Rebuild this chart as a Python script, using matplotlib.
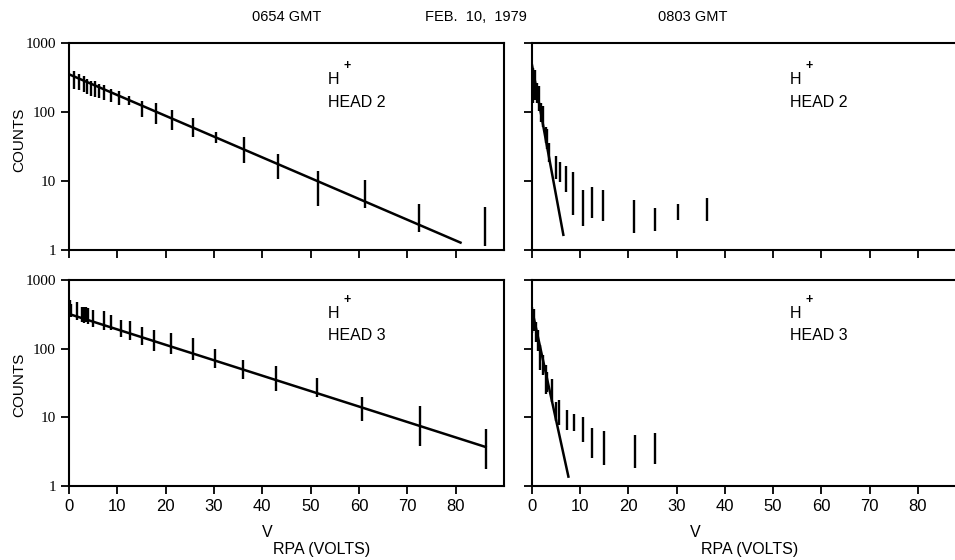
import matplotlib
matplotlib.use("Agg")
import matplotlib.pyplot as plt

SANS = ["Liberation Sans", "DejaVu Sans"]
SERIF = ["Liberation Serif", "DejaVu Serif"]

# 0654 GMT, head 2 (top left)
tl_v = [1.0, 2.1, 3.0, 3.8, 4.6, 5.4, 6.2, 7.2, 8.6, 10.4, 12.5, 15.0, 17.9,
        21.4, 25.6, 30.4, 36.2, 43.2, 51.5, 61.3, 72.5, 86.1]
tl_lo = [215, 205, 195, 180, 170, 165, 160, 150, 140, 125, 125, 85, 68,
         55, 43, 35, 18, 10.6, 4.4, 4.0, 1.8, 1.15]
tl_hi = [390, 360, 330, 300, 285, 280, 255, 245, 215, 200, 170, 145, 134,
         107, 81, 52, 44, 25, 14, 10.3, 4.6, 4.2]
tl_fit_v = [0, 81]
tl_fit_c = [352, 1.28]

# 0654 GMT, head 3 (bottom left)
bl_v = [0.2, 0.5, 1.6, 2.75, 3.2, 3.6, 4.0, 4.9, 7.3, 8.7, 10.7, 12.7, 15.1,
        17.5, 21.2, 25.7, 30.3, 36.1, 42.9, 51.3, 60.7, 72.6, 86.2]
bl_lo = [300, 290, 262, 246, 240, 246, 225, 209, 187, 187, 148, 132, 113,
         93, 85, 68, 53, 36, 24.5, 19.6, 8.7, 3.8, 1.74]
bl_hi = [520, 450, 483, 408, 400, 408, 390, 365, 357, 308, 262, 256, 209,
         187, 167, 141, 100, 69, 55, 37, 19.6, 14.5, 6.8]
bl_fit_v = [0, 86.2]
bl_fit_c = [320, 3.7]

# 0803 GMT, head 2 (top right)
tr_v = [0.14, 0.56, 1.05, 1.4, 1.9, 2.2, 2.8, 3.2, 3.6, 5.0, 5.9, 7.0, 8.5,
        10.6, 12.4, 14.8, 21.1, 25.5, 30.2, 36.2]
tr_lo = [135, 150, 135, 103, 71, 60, 36, 29, 18.6, 10.7, 9.8, 6.9, 3.2,
         2.2, 2.9, 2.6, 1.74, 1.9, 2.7, 2.6]
tr_hi = [434, 400, 263, 236, 135, 122, 60, 56, 35, 23, 18.6, 16.6, 13.7,
         7.4, 8.2, 7.4, 5.3, 4.1, 4.7, 5.7]
tr_fit_v = [0, 6.5]
tr_fit_c = [480, 1.66]

# 0803 GMT, head 3 (bottom right)
br_v = [0.1, 0.4, 0.77, 1.26, 1.75, 2.3, 2.8, 3.2, 4.05, 4.9, 5.7, 7.3, 8.8,
        10.5, 12.4, 15.0, 21.3, 25.6]
br_lo = [167, 180, 126, 91, 49, 42, 22, 23.5, 17, 8.7, 7.8, 6.6, 6.3,
         4.4, 2.6, 2.05, 1.8, 2.1]
br_hi = [410, 380, 246, 187, 113, 81, 58, 46, 36, 17, 18, 12.8, 11,
         10.2, 7.1, 6.3, 5.5, 6.0]
br_fit_v = [0, 7.55]
br_fit_c = [370, 1.37]

xticks = [0, 10, 20, 30, 40, 50, 60, 70, 80]
yticks = [1, 10, 100, 1000]
ytick_labels = ["1", "10", "100", "1000"]


def draw_panel(ax, v, lo, hi, fit_v, fit_c, head, text_y, left, bottom):
    ax.set_yscale("log")
    ax.set_xlim(0, 90)
    ax.set_ylim(1, 1000)
    ax.vlines(v, lo, hi, color="black", lw=1.7)
    ax.plot(fit_v, fit_c, color="black", lw=1.8)

    for s in ax.spines.values():
        s.set_linewidth(1.5)
    if not left:
        ax.spines["right"].set_visible(False)

    ax.set_xticks(xticks)
    ax.set_yticks(yticks)
    ax.minorticks_off()
    ax.tick_params(direction="out", length=5.5, width=1.3, pad=4)
    if bottom:
        ax.set_xticklabels([str(t) for t in xticks], fontsize=12, family=SANS)
    else:
        ax.set_xticklabels([])
    if left:
        ax.set_yticklabels(ytick_labels, fontsize=11, family=SERIF)
    else:
        ax.set_yticklabels([])

    ax.text(0.595, text_y[0], "H", transform=ax.transAxes, fontsize=11.5,
            family=SANS)
    ax.text(0.63, text_y[0] + 0.075, "+", transform=ax.transAxes,
            fontsize=9, family=SANS, fontweight="bold")
    ax.text(0.595, text_y[1], head, transform=ax.transAxes, fontsize=11.5,
            family=SANS)


fig = plt.figure(figsize=(9.55, 5.6), dpi=100)
W, H = 955, 560

ax_tl = fig.add_axes([69 / W, 1 - 250 / H, 435 / W, 207 / H])
ax_bl = fig.add_axes([69 / W, 1 - 486 / H, 435 / W, 206 / H])
ax_tr = fig.add_axes([532 / W, 1 - 250 / H, 434 / W, 207 / H])
ax_br = fig.add_axes([532 / W, 1 - 486 / H, 434 / W, 206 / H])

draw_panel(ax_tl, tl_v, tl_lo, tl_hi, tl_fit_v, tl_fit_c, "HEAD 2",
           (0.80, 0.69), True, False)
draw_panel(ax_bl, bl_v, bl_lo, bl_hi, bl_fit_v, bl_fit_c, "HEAD 3",
           (0.815, 0.71), True, True)
draw_panel(ax_tr, tr_v, tr_lo, tr_hi, tr_fit_v, tr_fit_c, "HEAD 2",
           (0.80, 0.69), False, False)
draw_panel(ax_br, br_v, br_lo, br_hi, br_fit_v, br_fit_c, "HEAD 3",
           (0.815, 0.71), False, True)

# y labels
fig.text(19 / W, 1 - 140 / H, "COUNTS", rotation=90, ha="center",
         va="center", fontsize=11, family=SANS)
fig.text(19 / W, 1 - 385 / H, "COUNTS", rotation=90, ha="center",
         va="center", fontsize=11, family=SANS)

# x labels
for cx in (262, 690):
    fig.text(cx / W, 1 - 537 / H, "V", fontsize=11.5, family=SANS,
             va="baseline")
    fig.text((cx + 11) / W, 1 - 554 / H, "RPA (VOLTS)", fontsize=11.5,
             family=SANS, va="baseline")

# header
fig.text(287 / W, 1 - 17 / H, "0654 GMT", ha="center", va="center",
         fontsize=10.5, family=SANS)
fig.text(476 / W, 1 - 17 / H, "FEB.  10,  1979", ha="center", va="center",
         fontsize=10.5, family=SANS)
fig.text(693 / W, 1 - 17 / H, "0803 GMT", ha="center", va="center",
         fontsize=10.5, family=SANS)

fig.savefig("out.png", dpi=100)
